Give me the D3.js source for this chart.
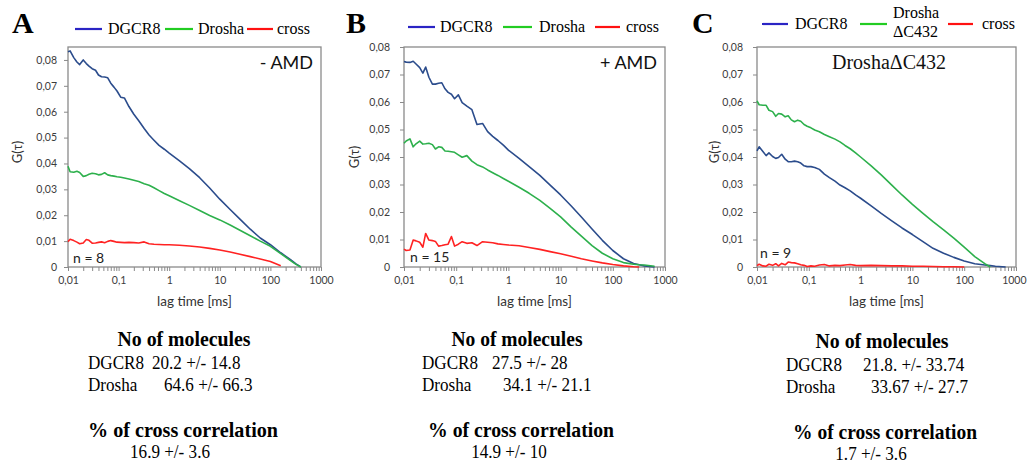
<!DOCTYPE html>
<html>
<head>
<meta charset="utf-8">
<script src="https://cdn.jsdelivr.net/npm/d3@7"></script>
<style>
  body { margin: 0; background: #fff; }
  svg { display: block; }
</style>
</head>
<body>
<svg id="chart" width="1027" height="463"></svg>
<script>
// lag times [ms] shared by every curve
var lags = [0.010, 0.011, 0.013, 0.015, 0.017, 0.020, 0.023, 0.026, 0.030, 0.035,
  0.040, 0.046, 0.053, 0.061, 0.070, 0.081, 0.093, 0.11, 0.13, 0.16,
  0.2, 0.25, 0.32, 0.4, 0.5, 0.63, 0.8, 1, 1.6, 2.5,
  4, 6.3, 10, 16, 25, 40, 63, 100, 160, 250, 320, 400, 630];

// panel A, - AMD
var dgcr8A = [0.0832, 0.0835, 0.0809, 0.0792, 0.0782, 0.0800, 0.0786, 0.0776, 0.0766, 0.0760,
  0.0742, 0.0735, 0.0734, 0.0731, 0.0710, 0.0695, 0.0680, 0.0656, 0.0653, 0.0620,
  0.0590, 0.0565, 0.0535, 0.0510, 0.0490, 0.0470, 0.0455, 0.0440, 0.0410, 0.0380,
  0.0345, 0.0305, 0.0262, 0.0222, 0.0185, 0.0146, 0.0112, 0.0086, 0.0055, 0.0028,
  0.0012, 0.0000, null];
var droshaA = [0.0389, 0.0368, 0.0366, 0.0370, 0.0365, 0.0350, 0.0353, 0.0358, 0.0362, 0.0360,
  0.0356, 0.0358, 0.0364, 0.0356, 0.0353, 0.0351, 0.0349, 0.0347, 0.0344, 0.0340,
  0.0335, 0.0330, 0.0322, 0.0316, 0.0306, 0.0295, 0.0284, 0.0275, 0.0256, 0.0238,
  0.0218, 0.0199, 0.0182, 0.0162, 0.0142, 0.0121, 0.0100, 0.0080, 0.0052, 0.0025,
  0.0010, 0.0000, null];
var crossA = [0.0098, 0.0107, 0.0102, 0.0096, 0.0090, 0.0093, 0.0106, 0.0103, 0.0092, 0.0093,
  0.0095, 0.0097, 0.0094, 0.0099, 0.0102, 0.0099, 0.0096, 0.0095, 0.0094, 0.0095,
  0.0094, 0.0093, 0.0097, 0.0090, 0.0088, 0.0087, 0.0086, 0.0086, 0.0084, 0.0081,
  0.0077, 0.0072, 0.0066, 0.0058, 0.0049, 0.0040, 0.0031, 0.0021, 0.0005, null,
  null, null, null];

// panel B, + AMD
var dgcr8B = [0.0747, 0.0745, 0.0744, 0.0748, 0.0738, 0.0725, 0.0705, 0.0727, 0.0690, 0.0665,
  0.0665, 0.0668, 0.0670, 0.0648, 0.0635, 0.0628, 0.0612, 0.0626, 0.0598, 0.0585,
  0.0572, 0.0518, 0.0522, 0.0492, 0.0475, 0.0460, 0.0443, 0.0425, 0.0395, 0.0365,
  0.0333, 0.0298, 0.0262, 0.0222, 0.0182, 0.0138, 0.0097, 0.0060, 0.0030, 0.0013,
  0.0008, 0.0004, 0.0000];
var droshaB = [0.0450, 0.0458, 0.0466, 0.0437, 0.0448, 0.0458, 0.0447, 0.0448, 0.0450, 0.0445,
  0.0429, 0.0437, 0.0435, 0.0422, 0.0421, 0.0419, 0.0417, 0.0408, 0.0399, 0.0405,
  0.0385, 0.0372, 0.0364, 0.0353, 0.0343, 0.0333, 0.0322, 0.0312, 0.0290, 0.0268,
  0.0242, 0.0213, 0.0182, 0.0145, 0.0112, 0.0078, 0.0050, 0.0030, 0.0016, 0.0010,
  0.0008, 0.0007, 0.0003];
var crossB = [0.0065, 0.0060, 0.0062, 0.0098, 0.0095, 0.0090, 0.0072, 0.0122, 0.0098, 0.0096,
  0.0093, 0.0076, 0.0078, 0.0081, 0.0083, 0.0111, 0.0076, 0.0083, 0.0092, 0.0086,
  0.0088, 0.0078, 0.0092, 0.0090, 0.0088, 0.0084, 0.0082, 0.0080, 0.0077, 0.0071,
  0.0064, 0.0056, 0.0048, 0.0039, 0.0030, 0.0022, 0.0015, 0.0009, 0.0004, 0.0001,
  0.0000, null, null];

// panel C, Drosha deltaC432
var dgcr8C = [0.0422, 0.0437, 0.0420, 0.0405, 0.0415, 0.0402, 0.0395, 0.0398, 0.0410, 0.0392,
  0.0383, 0.0383, 0.0385, 0.0383, 0.0378, 0.0368, 0.0365, 0.0365, 0.0362, 0.0355,
  0.0338, 0.0325, 0.0312, 0.0298, 0.0288, 0.0277, 0.0262, 0.0250, 0.0222, 0.0195,
  0.0168, 0.0142, 0.0118, 0.0092, 0.0068, 0.0050, 0.0035, 0.0022, 0.0012, 0.0007,
  0.0005, 0.0003, 0.0000];
var droshaC = [0.0604, 0.0590, 0.0588, 0.0588, 0.0570, 0.0565, 0.0548, 0.0558, 0.0556, 0.0546,
  0.0550, 0.0535, 0.0528, 0.0534, 0.0530, 0.0518, 0.0512, 0.0506, 0.0498, 0.0492,
  0.0482, 0.0474, 0.0465, 0.0455, 0.0442, 0.0430, 0.0415, 0.0400, 0.0368, 0.0335,
  0.0298, 0.0262, 0.0228, 0.0195, 0.0165, 0.0135, 0.0105, 0.0072, 0.0038, 0.0012,
  0.0000, null, null];
var crossC = [0.0005, 0.0010, 0.0004, 0.0003, 0.0010, 0.0006, 0.0012, 0.0004, 0.0013, 0.0008,
  0.0018, 0.0016, 0.0015, 0.0012, 0.0008, 0.0006, 0.0002, 0.0004, 0.0003, 0.0007,
  0.0009, 0.0004, 0.0006, 0.0005, 0.0007, 0.0009, 0.0006, 0.0005, 0.0006, 0.0005,
  0.0004, 0.0004, 0.0003, 0.0003, 0.0002, 0.0001, 0.0001, 0.0000, null, null,
  null, null, null];

var yTicks = [0, 0.01, 0.02, 0.03, 0.04, 0.05, 0.06, 0.07, 0.08];
var xMajor = [0.01, 0.1, 1, 10, 100, 1000];
var xTickLabels = ["0,01", "0,1", "1", "10", "100", "1000"];

var panelTags = ["A", "B", "C"];
var conditions = ["- AMD", "+ AMD", "Drosha\u0394C432"];
var nLabels = ["n = 8", "n = 15", "n = 9"];
var seriesNames = ["DGCR8", "Drosha", "cross"];

var statNames = ["DGCR8", "Drosha"];
var statsA = ["20.2 +/- 14.8", "64.6 +/- 66.3"];
var statsB = ["27.5 +/- 28", "34.1 +/- 21.1"];
var statsC = ["21.8. +/- 33.74", "33.67 +/- 27.7"];
var crossPct = ["16.9 +/- 3.6", "14.9 +/- 10", "1.7 +/- 3.6"];

var lineColors = ["#2b4c8c", "#2db04c", "#ff2222"];
var legendColors = ["#2a24c4", "#22cc22", "#ff1111"];

var svg = d3.select("#chart");
var serif = "'Liberation Serif', 'Times New Roman', serif";
var sans = "Lato, 'Open Sans', sans-serif";

// layout of the three panels
var panels = [
  { left: 68, right: 321, top: 47, bottom: 267, yMax: 0.085, series: [dgcr8A, droshaA, crossA],
    tagX: 12, condX: 313, condAnchor: "end", condFont: sans, condSize: 18,
    nX: 73, nY: 263, yLabX: 17, yLabY: 152, padY: 11,
    legend: [[75, 102, 108], [165, 193, 198], [247, 273, 277]],
    stats: statsA, statX: [88, 152, 164], statY: 0, cx: [184, 183, 170], tl: [133, 190] },
  { left: 404, right: 665, top: 47, bottom: 267, yMax: 0.08, series: [dgcr8B, droshaB, crossB],
    tagX: 346, condX: 657, condAnchor: "end", condFont: sans, condSize: 18,
    nX: 410, nY: 262, yLabX: 354, yLabY: 157, padY: 14,
    legend: [[408, 435, 440], [503, 532, 539], [595, 620, 626]],
    stats: statsB, statX: [422, 492, 503], statY: 0, cx: [517, 521, 509], tl: [131, 186] },
  { left: 757, right: 1016, top: 47, bottom: 267, yMax: 0.08, series: [dgcr8C, droshaC, crossC],
    tagX: 692, condX: 889, condAnchor: "middle", condFont: serif, condSize: 20,
    nX: 760, nY: 258, yLabX: 714, yLabY: 152, padY: 14,
    legend: [[762, 788, 795], [860, 887, 893], [948, 973, 982]],
    stats: statsC, statX: [786, 863, 871], statY: 2, cx: [882, 885, 871], tl: [133, 184] }
];

var minorTicks = [];
[0.01, 0.1, 1, 10, 100].forEach(function(d) {
  for (var k = 1; k < 10; k++) minorTicks.push(d * k);
});
minorTicks.push(1000);

// condensed serif text, like the narrow Times of the figure
function narrowText(g, x, y, str, size, anchor, bold, width) {
  var sx = 0.9;
  var t = g.append("text")
    .attr("transform", "translate(" + x + "," + y + ") scale(" + sx + ",1)")
    .attr("text-anchor", anchor || "start")
    .attr("font-family", serif)
    .attr("font-weight", bold ? "bold" : "normal")
    .attr("font-size", size)
    .text(str);
  if (width) t.attr("textLength", width / sx).attr("lengthAdjust", "spacingAndGlyphs");
  return t;
}

panels.forEach(function(p, i) {
  var x = d3.scaleLog().domain([0.01, 1000]).range([p.left, p.right]);
  var y = d3.scaleLinear().domain([0, p.yMax]).range([p.bottom, p.top]);
  var g = svg.append("g");

  // frame
  g.append("rect")
    .attr("x", p.left).attr("y", p.top)
    .attr("width", p.right - p.left).attr("height", p.bottom - p.top)
    .attr("fill", "none").attr("stroke", "#8a8a8a").attr("stroke-width", 1.3);

  // y axis
  var yAxis = d3.axisLeft(y).tickValues(yTicks).tickSize(4).tickPadding(p.padY - 4)
    .tickFormat(function(d) { return d === 0 ? "0" : d3.format(".2f")(d).replace(".", ","); });
  var ya = g.append("g").attr("transform", "translate(" + p.left + ",0)").call(yAxis);
  ya.select(".domain").remove();
  ya.selectAll("line").attr("stroke", "#8a8a8a");
  ya.selectAll("text").attr("font-family", sans).attr("font-size", 10.5).attr("fill", "#3c3c3c");

  // x axis, minor and major ticks
  var xAxis = d3.axisBottom(x).tickValues(minorTicks).tickSize(4).tickPadding(6)
    .tickFormat(function(d) {
      var idx = xMajor.findIndex(function(m) { return Math.abs(m - d) < d * 1e-6; });
      return idx >= 0 ? xTickLabels[idx] : "";
    });
  var xa = g.append("g").attr("transform", "translate(0," + p.bottom + ")").call(xAxis);
  xa.select(".domain").remove();
  xa.selectAll("line").attr("stroke", "#8a8a8a");
  xa.selectAll("text").attr("font-family", sans).attr("font-size", 10.5).attr("fill", "#3c3c3c");
  if (i === 2) {
    // last label sits at the right edge of the page
    xa.selectAll("text").filter(function(d) { return Math.abs(d - 1000) < 1e-6; })
      .attr("text-anchor", "end").attr("x", 1026 - p.right);
  }

  // curves
  var line = d3.line()
    .defined(function(d) { return d[1] != null; })
    .x(function(d) { return x(d[0]); })
    .y(function(d) { return y(d[1]); });
  p.series.forEach(function(vals, s) {
    var pts = lags.map(function(l, j) { return [l, vals[j]]; });
    g.append("path").datum(pts)
      .attr("d", line)
      .attr("fill", "none")
      .attr("stroke", lineColors[s])
      .attr("stroke-width", 1.6)
      .attr("stroke-linejoin", "round");
  });

  // axis titles
  g.append("text")
    .attr("transform", "translate(" + p.yLabX + "," + p.yLabY + ") rotate(-90)")
    .attr("text-anchor", "middle").attr("dy", "0.35em")
    .attr("font-family", sans).attr("font-size", 13).attr("fill", "#333")
    .text("G(\u03c4)");
  g.append("text")
    .attr("x", (p.left + p.right) / 2).attr("y", 306)
    .attr("text-anchor", "middle")
    .attr("font-family", sans).attr("font-size", 13.5).attr("fill", "#333")
    .text("lag time [ms]");

  // panel letter
  g.append("text")
    .attr("x", p.tagX).attr("y", 33)
    .attr("font-family", serif).attr("font-weight", "bold").attr("font-size", 30)
    .text(panelTags[i]);

  // condition and n
  g.append("text")
    .attr("x", p.condX).attr("y", 69)
    .attr("text-anchor", p.condAnchor)
    .attr("font-family", p.condFont).attr("font-size", p.condSize).attr("fill", "#111")
    .text(conditions[i]);
  g.append("text")
    .attr("x", p.nX).attr("y", p.nY)
    .attr("font-family", sans).attr("font-size", 14).attr("fill", "#222")
    .text(nLabels[i]);

  // legend
  var ly = i === 2 ? 24 : (i === 1 ? 27 : 29);
  p.legend.forEach(function(L, s) {
    g.append("line")
      .attr("x1", L[0]).attr("x2", L[1]).attr("y1", ly).attr("y2", ly)
      .attr("stroke", legendColors[s]).attr("stroke-width", 2.2);
    if (i === 2 && s === 1) {
      g.append("text").attr("x", L[2]).attr("y", 18)
        .attr("font-family", serif).attr("font-size", 16).text(seriesNames[s]);
      g.append("text").attr("x", L[2]).attr("y", 37)
        .attr("font-family", serif).attr("font-size", 16).text("\u0394C432");
    } else {
      g.append("text").attr("x", L[2]).attr("y", ly + 5)
        .attr("font-family", serif).attr("font-size", 16).text(seriesNames[s]);
    }
  });

  // statistics below
  var dy = p.statY;
  narrowText(g, p.cx[0], 346 + dy, "No of molecules", 20, "middle", true, p.tl[0]);
  statNames.forEach(function(nm, r) {
    narrowText(g, p.statX[0], 369 + dy + r * 22, nm, 19);
    narrowText(g, p.statX[1 + r], 369 + dy + r * 22, p.stats[r], 19);
  });
  narrowText(g, p.cx[1], 437 + dy, "% of cross correlation", 21, "middle", true, p.tl[1]);
  narrowText(g, p.cx[2], 458 + dy, crossPct[i], 19, "middle");
});
</script>
</body>
</html>
